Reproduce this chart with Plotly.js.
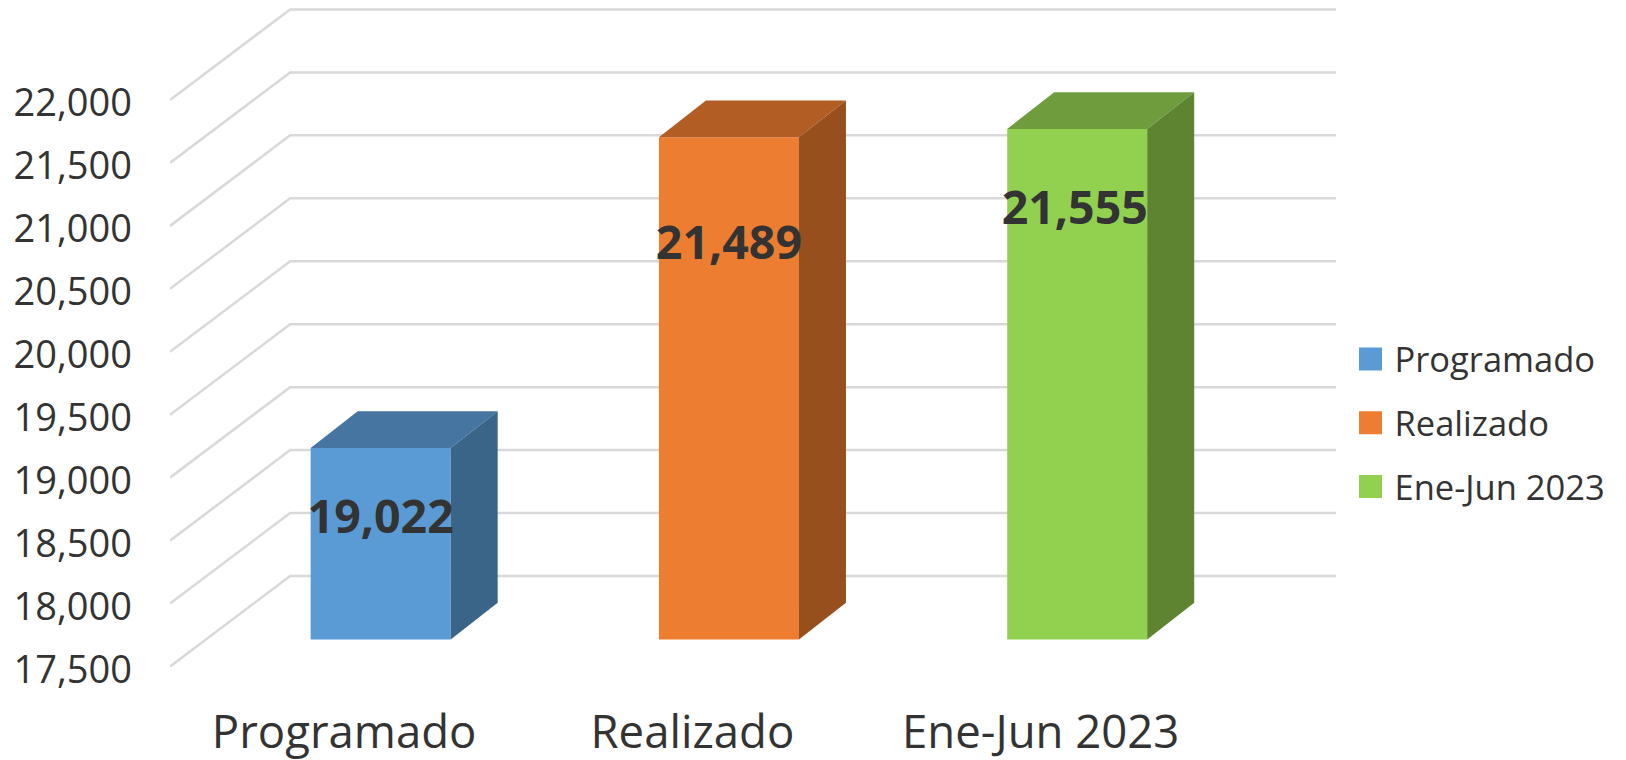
<!DOCTYPE html>
<html>
<head>
<meta charset="utf-8">
<script src="https://cdn.plot.ly/plotly-3.0.1.min.js"></script>
<style>html,body{margin:0;padding:0;background:#fff;overflow:hidden}#chart{width:1626px;height:760px}</style>
</head>
<body>
<div id="chart"></div>
<script>
// ---- data ----
const categories = ['Programado', 'Realizado', 'Ene-Jun 2023'];
const values = [19022, 21489, 21555];
const axisTicks = [17500, 18000, 18500, 19000, 19500, 20000, 20500, 21000, 21500, 22000];
const labelHeights = [18655, 20830, 21110];   // where each data label sits on the value axis
const labelNudges = [0, 0, -0.007];           // small sideways shift of each data label

// ---- styling ----
const frontColors = ['#5B9BD5', '#ED7D31', '#92D14F'];
const topColors = ['#4575A0', '#B25D24', '#6F9C3C'];
const sideColors = ['#3A6488', '#964F1D', '#5E8431'];
const textColor = '#333333';
const gridColor = '#D9D9D9';
const font = '"Open Sans", "Noto Sans", sans-serif';

// ---- pseudo-3D projection, in axis units ----
const wallDepthX = 0.345, wallDepthY = 719;     // front plane to back wall
const floorOffset = 0.304;                      // front of the bars, as a share of wall depth
const barWidth = 0.402, barDepthX = 0.135, barDepthY = 292;
const barShift = wallDepthX * floorOffset;
const floorValue = axisTicks[0];
const barBase = floorValue + wallDepthY * floorOffset - 4;
const xMin = -0.5, xMax = 2.848;

const gridShapes = axisTicks.map(v => ({
  type: 'path', layer: 'below', xref: 'x', yref: 'y',
  path: `M${xMin},${v} L${xMin + wallDepthX},${v + wallDepthY} L${xMax},${v + wallDepthY}`,
  line: {color: gridColor, width: 2.5}
}));

const traces = [];
categories.forEach((name, i) => {
  const left = i + barShift - barWidth / 2;
  const right = left + barWidth;
  const top = values[i] - floorValue + barBase;
  traces.push({
    type: 'bar', name: name, legendgroup: name,
    x: [i], y: [values[i] - floorValue], base: [barBase],
    width: [barWidth], offset: [-barWidth / 2 + barShift],
    marker: {color: frontColors[i], line: {width: 0}},
    hoverinfo: 'skip'
  });
  traces.push({
    type: 'scatter', mode: 'lines', fill: 'toself', showlegend: false, hoverinfo: 'skip',
    x: [left, right, right + barDepthX, left + barDepthX, left],
    y: [top, top, top + barDepthY, top + barDepthY, top],
    fillcolor: topColors[i], line: {width: 0, color: topColors[i]}
  });
  traces.push({
    type: 'scatter', mode: 'lines', fill: 'toself', showlegend: false, hoverinfo: 'skip',
    x: [right, right + barDepthX, right + barDepthX, right, right],
    y: [barBase, barBase + barDepthY, top + barDepthY, top, barBase],
    fillcolor: sideColors[i], line: {width: 0, color: sideColors[i]}
  });
});
traces.push({
  type: 'scatter', mode: 'text', showlegend: false, hoverinfo: 'skip', cliponaxis: false,
  x: categories.map((c, i) => i + barShift + labelNudges[i]),
  y: labelHeights,
  text: values.map(v => v.toLocaleString('en-US')),
  textposition: 'middle center',
  textfont: {family: font, size: 46.5, color: textColor, weight: 700}
});

const layout = {
  width: 1626, height: 760,
  margin: {l: 170, r: 290, t: 0, b: 59, pad: 0},
  paper_bgcolor: '#fff', plot_bgcolor: '#fff',
  barmode: 'overlay',
  showlegend: true,
  hovermode: false,
  shapes: gridShapes,
  xaxis: {
    type: 'linear', range: [xMin, xMax], tickmode: 'array',
    tickvals: categories.map((c, i) => i), ticktext: categories,
    showgrid: false, zeroline: false, showline: false, ticks: '',
    tickfont: {family: font, size: 45.5, color: textColor}
  },
  yaxis: {
    type: 'linear', range: [17226.4, 22794], tickmode: 'array',
    tickvals: axisTicks, tickformat: ',d',
    showgrid: false, zeroline: false, showline: false, ticks: '',
    ticklabelstandoff: 37, ticklabelshift: 3,
    tickfont: {family: font, size: 38, color: textColor}
  },
  legend: {
    x: 1.009, xanchor: 'left', y: 0.3966, yanchor: 'middle',
    traceorder: 'grouped', tracegroupgap: 16, itemwidth: 38,
    font: {family: font, size: 34.5, color: textColor},
    bgcolor: 'rgba(0,0,0,0)', itemclick: false, itemdoubleclick: false
  }
};

Plotly.newPlot('chart', traces, layout, {displayModeBar: false}).then(gd => {
  gd.querySelectorAll('.legend .legendpoints path').forEach(p => {
    p.setAttribute('d', 'M11.5,11.5H-11.5V-11.5H11.5Z');
  });
});
</script>
</body>
</html>
